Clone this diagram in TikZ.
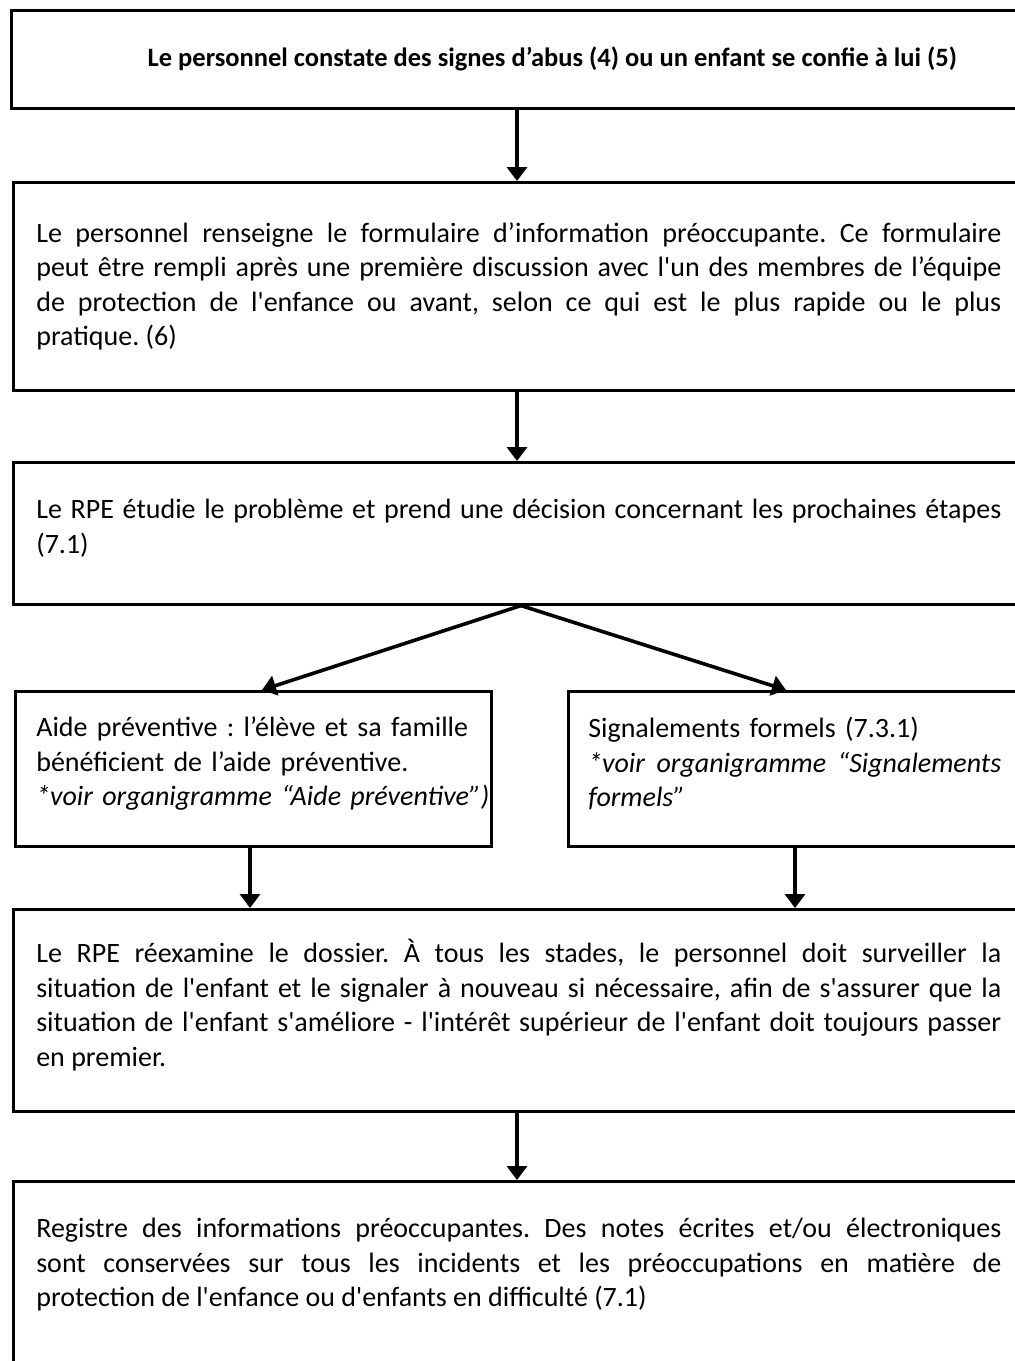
\documentclass[tikz,border=0pt]{standalone}
\usepackage{fontspec}
\setmainfont{Carlito}[Ligatures=TeXOff]
\usetikzlibrary{arrows.meta}
\newcommand{\upshiftpad}{\par\nointerlineskip\vbox to 10pt{}}
\begin{document}
\frenchspacing
\begin{tikzpicture}[x=1pt,y=-1pt,
  box/.style={draw, line width=2.6pt, anchor=north west, inner xsep=23pt, inner ysep=0pt,
    font=\fontsize{28}{34.5}\selectfont\frenchspacing, align=justify, text width=965pt},
  arr/.style={line width=3.6pt, -{Triangle[width=20pt,length=14pt]}}]
\useasboundingbox (0,0) rectangle (1015,1361);
\clip (0,0) rectangle (1015,1361);
\fill[white] (0,0) rectangle (1015,1361);

\node[draw, line width=2.6pt, anchor=north west, inner sep=0pt, minimum height=98pt,
  minimum width=1082pt, font=\fontsize{26.5}{30}\selectfont\bfseries] (b1) at (10,9)
  {Le personnel constate des signes d’abus (4) ou un enfant se confie à lui (5)};

\node[box, minimum height=208pt] (b2) at (12,181)
  {Le personnel renseigne le formulaire d’information préoccupante. Ce formulaire\linebreak
   peut être rempli après une première discussion avec l'un des membres de l’équipe\linebreak
   de protection de l'enfance ou avant, selon ce qui est le plus rapide ou le plus\linebreak
   pratique. (6)};

\node[box, minimum height=142pt] (b3) at (12,461)
  {Le RPE étudie le problème et prend une décision concernant les prochaines étapes\linebreak
   (7.1)\upshiftpad};

\node[box, minimum height=155pt, inner xsep=21pt, text width=434pt, align=left] (b4a) at (14,690)
  {Aide préventive : l’élève et sa famille\\
   bénéficient de l’aide préventive.\\
   \mbox{\textit{*voir organigramme “Aide préventive”)}}\upshiftpad};

\node[box, minimum height=155pt, inner xsep=20pt, text width=413pt, align=left] (b4b) at (567,690)
  {Signalements formels (7.3.1)\\
   \textit{*voir}\hfill\textit{organigramme}\hfill\textit{“Signalements}\\
   \textit{formels”}\upshiftpad};

\node[box, minimum height=202pt] (b5) at (12,908)
  {Le RPE réexamine le dossier. À tous les stades, le personnel doit surveiller la\linebreak
   situation de l'enfant et le signaler à nouveau si nécessaire, afin de s'assurer que la\linebreak
   situation de l'enfant s'améliore - l'intérêt supérieur de l'enfant doit toujours passer\linebreak
   en premier.\upshiftpad};

\node[box, inner ysep=37pt] (b6) at (12,1180)
  {Registre des informations préoccupantes. Des notes écrites et/ou électroniques\linebreak
   sont conservées sur tous les incidents et les préoccupations en matière de\linebreak
   protection de l'enfance ou d'enfants en difficulté (7.1)\par\nointerlineskip\vbox to 120pt{}};

\coordinate (mx) at (517,0);
\coordinate (apex) at (521,0);
\coordinate (la) at (262,0);
\coordinate (ra) at (786,0);
\coordinate (lb) at (250,0);
\coordinate (rb) at (795,0);

\draw[arr] (b1.south -| mx) -- (b2.north -| mx);
\draw[arr] (b2.south -| mx) -- (b3.north -| mx);
\draw[arr] (b3.south -| apex) -- (b4a.north -| la);
\draw[arr] (b3.south -| apex) -- (b4b.north -| ra);
\draw[arr] (b4a.south -| lb) -- (b5.north -| lb);
\draw[arr] (b4b.south -| rb) -- (b5.north -| rb);
\draw[arr] (b5.south -| mx) -- (b6.north -| mx);
\end{tikzpicture}
\end{document}
